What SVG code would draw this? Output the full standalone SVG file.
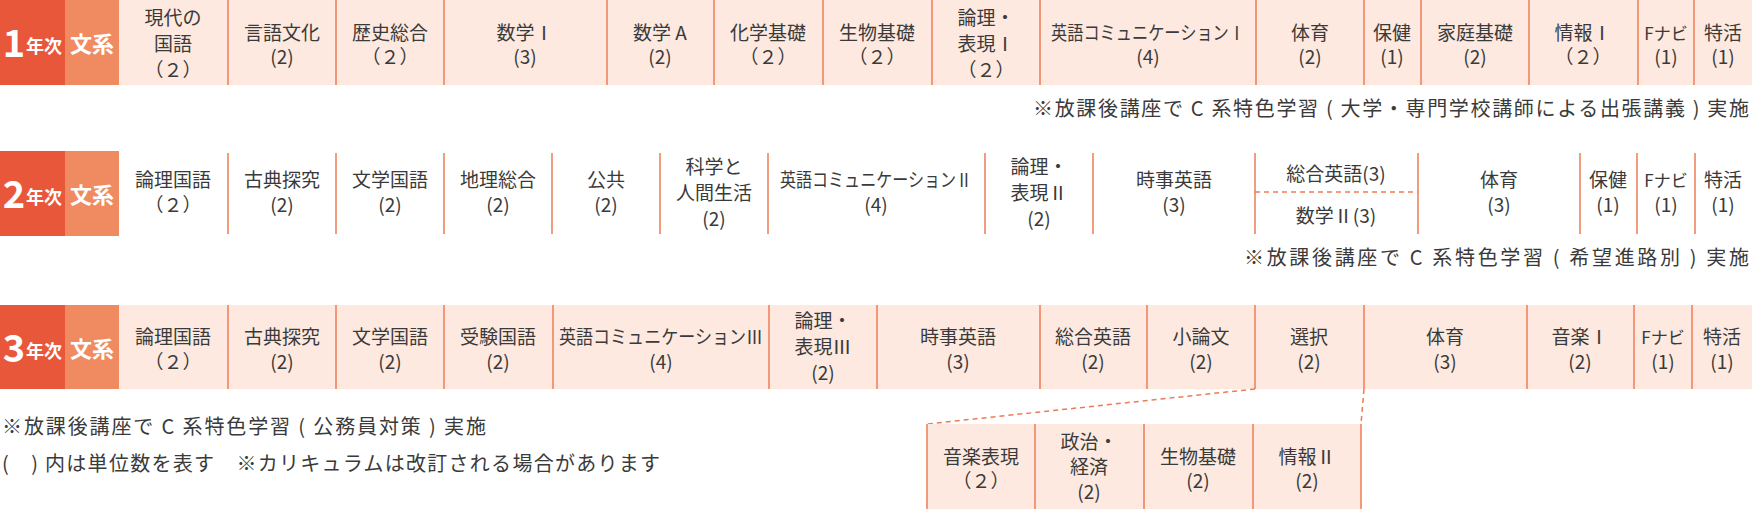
<svg xmlns="http://www.w3.org/2000/svg" width="1752" height="509" viewBox="0 0 1752 509">
<style>
text{font-family:"Noto Sans CJK JP","Noto Sans",sans-serif;fill:#3a3a3a;font-size:19px;text-anchor:middle}
.bg{fill:#fde9df}
.sep{stroke:#ee7b55;stroke-width:1.5}
.yr{fill:#e8573a}.ks{fill:#f08a60}
.w{fill:#fff;font-weight:bold}
.note{text-anchor:start;font-size:20px}
.nr{text-anchor:end;font-size:20px}
.dash{stroke:#ee7b55;stroke-width:1.5;stroke-dasharray:5 4;fill:none}
</style>
<g id="row1">
<rect class="bg" x="119" y="0" width="1633" height="85"/>
<rect class="yr" x="0" y="0" width="65" height="85"/><rect class="ks" x="65" y="0" width="54" height="85"/>
<text class="w" x="14" y="57" style="font-size:38px">1</text><text class="w" x="44" y="53" style="font-size:18px">年次</text>
<text class="w" x="92" y="52" style="font-size:22px">文系</text>
<g class="sep"><line x1="228" y1="0" x2="228" y2="85"/><line x1="336" y1="0" x2="336" y2="85"/><line x1="444" y1="0" x2="444" y2="85"/><line x1="607" y1="0" x2="607" y2="85"/><line x1="714" y1="0" x2="714" y2="85"/><line x1="823" y1="0" x2="823" y2="85"/><line x1="932" y1="0" x2="932" y2="85"/><line x1="1040" y1="0" x2="1040" y2="85"/><line x1="1256" y1="0" x2="1256" y2="85"/><line x1="1364" y1="0" x2="1364" y2="85"/><line x1="1421" y1="0" x2="1421" y2="85"/><line x1="1529" y1="0" x2="1529" y2="85"/><line x1="1638" y1="0" x2="1638" y2="85"/><line x1="1694" y1="0" x2="1694" y2="85"/></g>
<text x="173" y="25">現代の</text><text x="173" y="51">国語</text><text x="173" y="77">（２）</text>
<text x="282" y="40">言語文化</text><text x="282" y="64">(2)</text>
<text x="390" y="40">歴史総合</text><text x="390" y="64">（２）</text>
<text x="525" y="40">数学Ⅰ</text><text x="525" y="64">(3)</text>
<text x="660" y="40">数学 A</text><text x="660" y="64">(2)</text>
<text x="768" y="40">化学基礎</text><text x="768" y="64">（２）</text>
<text x="877" y="40">生物基礎</text><text x="877" y="64">（２）</text>
<text x="986" y="25">論理・</text><text x="986" y="51">表現Ⅰ</text><text x="986" y="77">（２）</text>
<text x="1148" y="40" textLength="194" lengthAdjust="spacingAndGlyphs">英語コミュニケーションⅠ</text><text x="1148" y="64">(4)</text>
<text x="1310" y="40">体育</text><text x="1310" y="64">(2)</text>
<text x="1392" y="40">保健</text><text x="1392" y="64">(1)</text>
<text x="1475" y="40">家庭基礎</text><text x="1475" y="64">(2)</text>
<text x="1583" y="40">情報Ⅰ</text><text x="1583" y="64">（２）</text>
<text x="1666" y="40" style="font-size:17px">Fナビ</text><text x="1666" y="64">(1)</text>
<text x="1723" y="40">特活</text><text x="1723" y="64">(1)</text>
</g>
<text class="nr" x="1749" y="116" textLength="716" lengthAdjust="spacing">※放課後講座で C 系特色学習 ( 大学・専門学校講師による出張講義 ) 実施</text>
<g id="row2">
<rect class="yr" x="0" y="151" width="65" height="85"/><rect class="ks" x="65" y="151" width="54" height="85"/>
<text class="w" x="14" y="208" style="font-size:38px">2</text><text class="w" x="44" y="204" style="font-size:18px">年次</text>
<text class="w" x="92" y="203" style="font-size:22px">文系</text>
<g class="sep"><line x1="228" y1="153" x2="228" y2="234"/><line x1="336" y1="153" x2="336" y2="234"/><line x1="444" y1="153" x2="444" y2="234"/><line x1="552" y1="153" x2="552" y2="234"/><line x1="660" y1="153" x2="660" y2="234"/><line x1="768" y1="153" x2="768" y2="234"/><line x1="985" y1="153" x2="985" y2="234"/><line x1="1093" y1="153" x2="1093" y2="234"/><line x1="1255" y1="153" x2="1255" y2="234"/><line x1="1418" y1="153" x2="1418" y2="234"/><line x1="1580" y1="153" x2="1580" y2="234"/><line x1="1637" y1="153" x2="1637" y2="234"/><line x1="1695" y1="153" x2="1695" y2="234"/></g>
<line class="dash" x1="1255" y1="192" x2="1418" y2="192"/>
<text x="173" y="187">論理国語</text><text x="173" y="212">（２）</text>
<text x="282" y="187">古典探究</text><text x="282" y="212">(2)</text>
<text x="390" y="187">文学国語</text><text x="390" y="212">(2)</text>
<text x="498" y="187">地理総合</text><text x="498" y="212">(2)</text>
<text x="606" y="187">公共</text><text x="606" y="212">(2)</text>
<text x="714" y="174">科学と</text><text x="714" y="200">人間生活</text><text x="714" y="226">(2)</text>
<text x="876" y="187" textLength="192" lengthAdjust="spacingAndGlyphs">英語コミュニケーションⅡ</text><text x="876" y="212">(4)</text>
<text x="1039" y="174">論理・</text><text x="1039" y="200">表現Ⅱ</text><text x="1039" y="226">(2)</text>
<text x="1174" y="187">時事英語</text><text x="1174" y="212">(3)</text>
<text x="1336" y="181">総合英語(3)</text><text x="1336" y="223">数学Ⅱ(3)</text>
<text x="1499" y="187">体育</text><text x="1499" y="212">(3)</text>
<text x="1608" y="187">保健</text><text x="1608" y="212">(1)</text>
<text x="1666" y="187" style="font-size:17px">Fナビ</text><text x="1666" y="212">(1)</text>
<text x="1723" y="187">特活</text><text x="1723" y="212">(1)</text>
</g>
<text class="nr" x="1749" y="265" textLength="505" lengthAdjust="spacing">※放課後講座で C 系特色学習 ( 希望進路別 ) 実施</text>
<g id="row3">
<rect class="bg" x="119" y="305" width="1633" height="84"/>
<rect class="yr" x="0" y="305" width="65" height="84"/><rect class="ks" x="65" y="305" width="54" height="84"/>
<text class="w" x="14" y="362" style="font-size:38px">3</text><text class="w" x="44" y="358" style="font-size:18px">年次</text>
<text class="w" x="92" y="357" style="font-size:22px">文系</text>
<g class="sep"><line x1="228" y1="305" x2="228" y2="389"/><line x1="336" y1="305" x2="336" y2="389"/><line x1="444" y1="305" x2="444" y2="389"/><line x1="553" y1="305" x2="553" y2="389"/><line x1="769" y1="305" x2="769" y2="389"/><line x1="877" y1="305" x2="877" y2="389"/><line x1="1040" y1="305" x2="1040" y2="389"/><line x1="1147" y1="305" x2="1147" y2="389"/><line x1="1255" y1="305" x2="1255" y2="389"/><line x1="1364" y1="305" x2="1364" y2="389"/><line x1="1527" y1="305" x2="1527" y2="389"/><line x1="1634" y1="305" x2="1634" y2="389"/><line x1="1692" y1="305" x2="1692" y2="389"/></g>
<text x="173" y="344">論理国語</text><text x="173" y="369">（２）</text>
<text x="282" y="344">古典探究</text><text x="282" y="369">(2)</text>
<text x="390" y="344">文学国語</text><text x="390" y="369">(2)</text>
<text x="498" y="344">受験国語</text><text x="498" y="369">(2)</text>
<text x="661" y="344" textLength="204" lengthAdjust="spacingAndGlyphs">英語コミュニケーションⅢ</text><text x="661" y="369">(4)</text>
<text x="823" y="328">論理・</text><text x="823" y="354">表現Ⅲ</text><text x="823" y="380">(2)</text>
<text x="958" y="344">時事英語</text><text x="958" y="369">(3)</text>
<text x="1093" y="344">総合英語</text><text x="1093" y="369">(2)</text>
<text x="1201" y="344">小論文</text><text x="1201" y="369">(2)</text>
<text x="1309" y="344">選択</text><text x="1309" y="369">(2)</text>
<text x="1445" y="344">体育</text><text x="1445" y="369">(3)</text>
<text x="1580" y="344">音楽Ⅰ</text><text x="1580" y="369">(2)</text>
<text x="1663" y="344" style="font-size:17px">Fナビ</text><text x="1663" y="369">(1)</text>
<text x="1722" y="344">特活</text><text x="1722" y="369">(1)</text>
</g>
<g id="connectors">
<path class="dash" d="M1255 389 L927 424"/>
<path class="dash" d="M1364 389 L1361 424"/>
</g>
<g id="elective">
<rect class="bg" x="927" y="424" width="434" height="85"/>
<g class="sep"><line x1="927" y1="424" x2="927" y2="509"/><line x1="1035" y1="424" x2="1035" y2="509"/><line x1="1144" y1="424" x2="1144" y2="509"/><line x1="1253" y1="424" x2="1253" y2="509"/><line x1="1361" y1="424" x2="1361" y2="509"/></g>
<text x="981" y="464">音楽表現</text><text x="981" y="488">（２）</text>
<text x="1089" y="449">政治・</text><text x="1089" y="474">経済</text><text x="1089" y="499">(2)</text>
<text x="1198" y="464">生物基礎</text><text x="1198" y="488">(2)</text>
<text x="1307" y="464">情報Ⅱ</text><text x="1307" y="488">(2)</text>
</g>
<text class="note" x="2" y="434" textLength="484" lengthAdjust="spacing">※放課後講座で C 系特色学習 ( 公務員対策 ) 実施</text>
<text class="note" x="2" y="471" textLength="658" lengthAdjust="spacing">(　) 内は単位数を表す　※カリキュラムは改訂される場合があります</text>
</svg>
